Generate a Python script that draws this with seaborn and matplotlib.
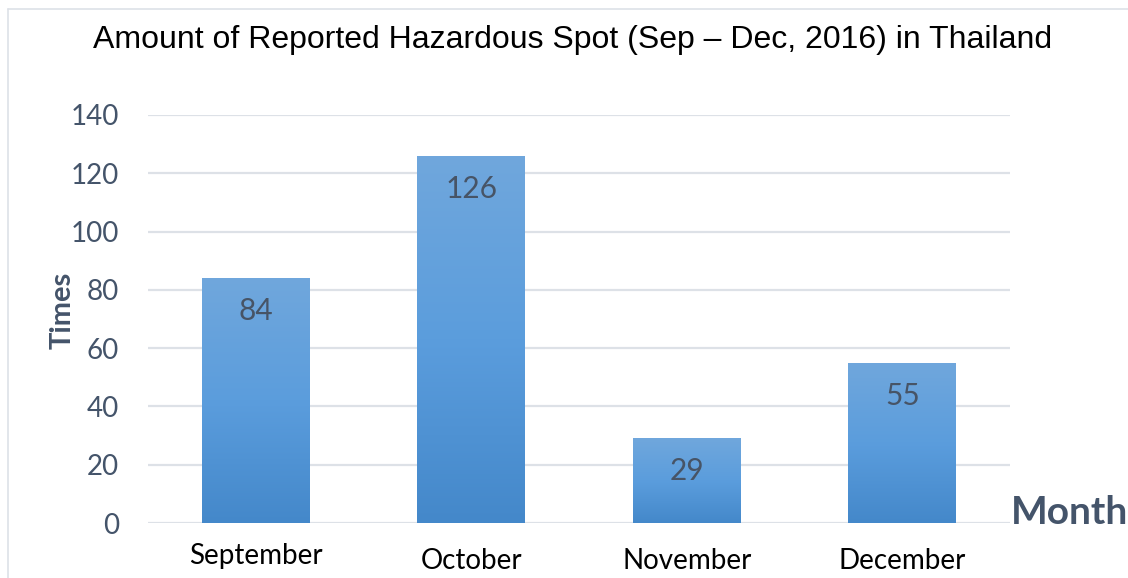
import numpy as np
import pandas as pd
import matplotlib
matplotlib.use("Agg")
import matplotlib.pyplot as plt
import matplotlib.transforms as mtransforms
from matplotlib.colors import LinearSegmentedColormap
import seaborn as sns

# Data
months = ["September", "October", "November", "December"]
times = [84, 126, 29, 55]
label_drop = [0.0, 0.012, 0.012, 0.012]  # September label sits a little higher

df = pd.DataFrame({"Month": months, "Times": times})

sns.set_theme(style="white")
plt.rcParams["font.family"] = ["Lato", "DejaVu Sans"]

slate = "#44546A"
fig = plt.figure(figsize=(11.28, 5.78), dpi=100)
ax = fig.add_axes([148 / 1128, 1 - 523 / 578, 862 / 1128, 408 / 578])

sns.barplot(data=df, x="Month", y="Times", color="#5B9BD5", width=0.5, ax=ax, zorder=3)

# gradient fill on each bar
grad = LinearSegmentedColormap.from_list("g", ["#4488CA", "#5B9DDD", "#70A7DC"])
for p in ax.patches:
    x0, y0 = p.get_x(), p.get_y()
    w, h = p.get_width(), p.get_height()
    img = ax.imshow(np.linspace(0, 1, 256).reshape(-1, 1), cmap=grad, origin="lower",
                    aspect="auto", extent=[x0, x0 + w, y0, y0 + h], zorder=3)
    img.set_clip_path(p)
    p.set_facecolor("none")
    p.set_edgecolor("none")

ax.set_xlim(-0.5, 3.5)
ax.set_ylim(0, 140)
ax.set_yticks(range(0, 141, 20))
ax.yaxis.grid(True, color="#DDE1E7", linewidth=1.6, zorder=0)
ax.set_axisbelow(True)
for s in ax.spines.values():
    s.set_visible(False)
ax.tick_params(axis="y", length=0, pad=21, labelsize=20, labelcolor=slate)
ax.tick_params(axis="x", length=0, labelbottom=False)
ax.set_xlabel("")
ax.set_ylabel("Times", fontsize=21, fontweight="bold", color=slate)
ax.yaxis.set_label_coords(-0.084, 0.522)

# value labels just inside the bar tops
for i, v in enumerate(times):
    off = mtransforms.offset_copy(ax.transData, fig=fig, x=0, y=-33, units="dots")
    ax.text(i, v, str(v), ha="center", va="center", fontsize=21.5, color="#475466",
            transform=off, zorder=4)

# month labels, staggered like the original
blend = mtransforms.blended_transform_factory(ax.transData, ax.transAxes)
for i, m in enumerate(months):
    ax.text(i, -0.081 - label_drop[i], m, ha="center", va="center", fontsize=20,
            color="black", transform=blend)

fig.text(1070 / 1128, 1 - 512 / 578, "Month", ha="center", va="center",
         fontsize=28, fontweight="bold", color=slate)
fig.text(573 / 1128, 1 - 40 / 578, "Amount of Reported Hazardous Spot (Sep \u2013 Dec, 2016) in Thailand",
         ha="center", va="center", fontsize=23, color="black", family=["Liberation Sans"])

# light frame around the chart area
frame_col = "#DDE1E7"
fig.add_artist(plt.Line2D([8 / 1128, 8 / 1128], [0, 1 - 9 / 578], color=frame_col, lw=1.2))
fig.add_artist(plt.Line2D([8 / 1128, 1], [1 - 9 / 578, 1 - 9 / 578], color=frame_col, lw=1.2))

fig.savefig("out.png", dpi=100, facecolor="white")
